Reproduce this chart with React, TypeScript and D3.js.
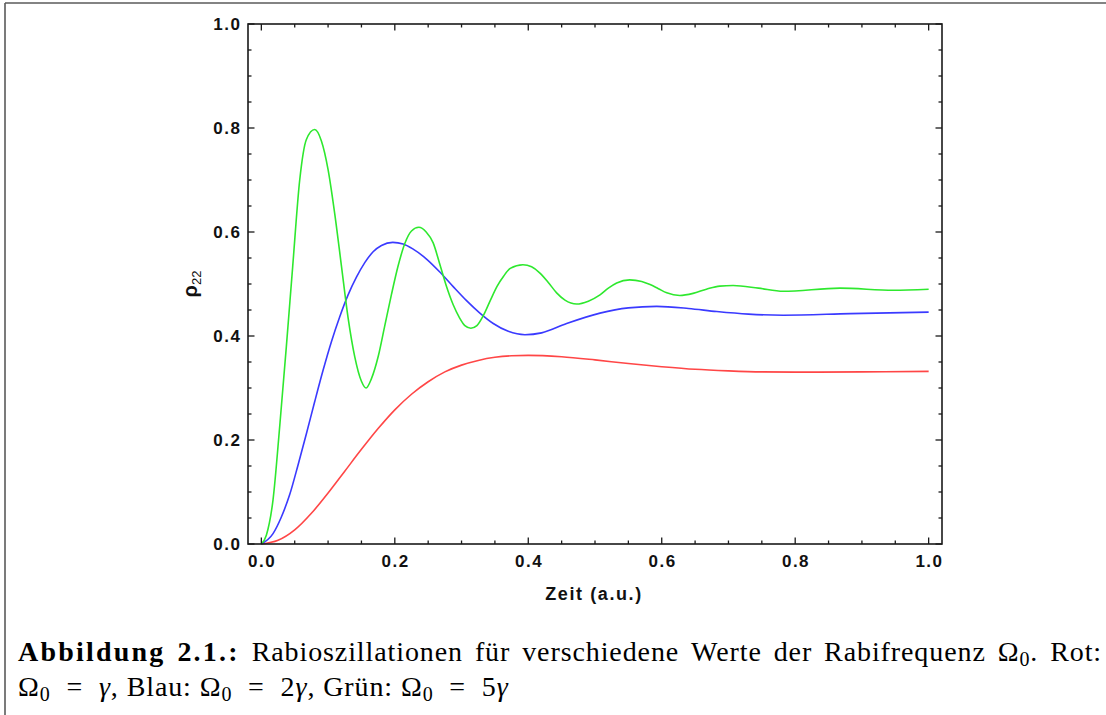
import React, { useMemo } from "react";
import * as d3 from "d3";

// ---- data ----
const timeRed = [0, 0.025, 0.05, 0.075, 0.1, 0.125, 0.15, 0.175, 0.2, 0.225, 0.25, 0.275, 0.3, 0.325, 0.35, 0.375, 0.4, 0.45, 0.5, 0.55, 0.6, 0.65, 0.7, 0.75, 0.8, 0.9, 1.0];
const rhoRed = [0, 0.007, 0.027, 0.059, 0.098, 0.14, 0.182, 0.222, 0.258, 0.288, 0.312, 0.331, 0.344, 0.353, 0.359, 0.362, 0.3628, 0.36, 0.354, 0.347, 0.341, 0.336, 0.333, 0.331, 0.3305, 0.331, 0.332];

const timeBlue = [0, 0.0175, 0.03, 0.0425, 0.055, 0.0675, 0.08, 0.0925, 0.105, 0.1175, 0.13, 0.1425, 0.155, 0.1675, 0.18, 0.197, 0.2125, 0.2275, 0.2475, 0.2675, 0.2875, 0.3075, 0.3275, 0.3475, 0.37, 0.395, 0.42, 0.4575, 0.5075, 0.55, 0.5925, 0.64, 0.6825, 0.73, 0.782, 0.8825, 1.0];
const rhoBlue = [0, 0.02, 0.052, 0.095, 0.152, 0.212, 0.274, 0.334, 0.389, 0.437, 0.479, 0.513, 0.541, 0.562, 0.574, 0.58, 0.577, 0.567, 0.548, 0.523, 0.495, 0.468, 0.444, 0.424, 0.409, 0.4025, 0.406, 0.424, 0.444, 0.454, 0.457, 0.453, 0.447, 0.442, 0.44, 0.443, 0.446];

const timeGreen = [0, 0.0075, 0.0175, 0.0275, 0.0375, 0.047, 0.0575, 0.0675, 0.08, 0.09, 0.1, 0.11, 0.12, 0.13, 0.14, 0.15, 0.157, 0.165, 0.175, 0.185, 0.195, 0.205, 0.215, 0.225, 0.236, 0.247, 0.2575, 0.267, 0.277, 0.2875, 0.297, 0.305, 0.314, 0.323, 0.333, 0.343, 0.353, 0.363, 0.373, 0.392, 0.405, 0.4175, 0.43, 0.4425, 0.455, 0.4725, 0.49, 0.5075, 0.52, 0.5325, 0.552, 0.57, 0.5825, 0.595, 0.6075, 0.627, 0.647, 0.667, 0.687, 0.707, 0.745, 0.782, 0.867, 0.947, 1.0];
const rhoGreen = [0, 0.017, 0.085, 0.226, 0.38, 0.534, 0.7, 0.778, 0.797, 0.775, 0.72, 0.635, 0.535, 0.435, 0.36, 0.313, 0.3, 0.318, 0.36, 0.42, 0.48, 0.535, 0.578, 0.602, 0.609, 0.6, 0.579, 0.54, 0.497, 0.46, 0.435, 0.42, 0.415, 0.42, 0.44, 0.468, 0.495, 0.515, 0.53, 0.537, 0.533, 0.521, 0.503, 0.483, 0.469, 0.4615, 0.467, 0.479, 0.492, 0.502, 0.508, 0.505, 0.499, 0.491, 0.483, 0.478, 0.482, 0.49, 0.496, 0.497, 0.492, 0.486, 0.492, 0.488, 0.49];

const majorTicks = [0, 0.2, 0.4, 0.6, 0.8, 1.0];
const tickLabels = ["0.0", "0.2", "0.4", "0.6", "0.8", "1.0"];
const minorStep = 0.05;

const xTitle = "Zeit (a.u.)";
const captionBold = ["Abbildung", "2.1.:"];
const captionWords = ["Rabioszillationen", "für", "verschiedene", "Werte", "der", "Rabifrequenz"];

const series = [
  { t: timeRed, v: rhoRed, color: "#ff4646" },
  { t: timeBlue, v: rhoBlue, color: "#3a3aff" },
  { t: timeGreen, v: rhoGreen, color: "#2ee82e" },
];

const W = 1106;
const H = 715;
const PL = 248, PR = 942, PT = 24, PB = 544;
const AX = "#1a1a1a";
const SANS = '"Liberation Sans", Arial, sans-serif';
const SERIF = '"Liberation Serif", "Times New Roman", serif';
const CAP = 28;
const SUB = 20;
const LS = 0.9;

type Piece = { t: string; b?: boolean; sub?: boolean; it?: boolean };

function fontOf(p: Piece) {
  return `${p.it ? "italic " : ""}${p.b ? "bold " : ""}${p.sub ? SUB : CAP}px ${SERIF}`;
}
function lsOf(p: Piece) {
  return p.b ? 2.2 : LS;
}

export default function App() {
  const x = d3.scaleLinear().domain([-0.02, 1.02]).range([PL, PR]);
  const y = d3.scaleLinear().domain([0, 1]).range([PB, PT]);
  const minor = d3.range(0, 1.0001, minorStep);

  const line = d3
    .line<[number, number]>()
    .x((d) => x(d[0]))
    .y((d) => y(d[1]))
    .curve(d3.curveMonotoneX);

  const caption = useMemo(() => {
    const ctx = document.createElement("canvas").getContext("2d")!;
    const measure = (p: Piece) => {
      ctx.font = fontOf(p);
      return ctx.measureText(p.t).width + lsOf(p) * p.t.length;
    };
    const words: Piece[][] = [
      ...captionBold.map((w) => [{ t: w, b: true }]),
      ...captionWords.map((w) => [{ t: w }]),
      [{ t: "Ω" }, { t: "0", sub: true }, { t: "." }],
      [{ t: "Rot:" }],
    ];
    const x0 = 18, x1 = 1102;
    const widths = words.map((w) => w.reduce((s, p) => s + measure(p), 0));
    const total = widths.reduce((a, b) => a + b, 0);
    const gap = (x1 - x0 - total) / (words.length - 1);
    const out: { p: Piece; x: number; line: number }[] = [];
    let cx = x0;
    words.forEach((w, i) => {
      let px = cx;
      w.forEach((p) => {
        out.push({ p, x: px, line: 0 });
        px += measure(p);
      });
      cx += widths[i] + gap;
    });
    const l2: Piece[] = [
      { t: "Ω" }, { t: "0", sub: true }, { t: "  =  " }, { t: "γ", it: true }, { t: ", Blau: " },
      { t: "Ω" }, { t: "0", sub: true }, { t: "  =  2" }, { t: "γ", it: true }, { t: ", Grün: " },
      { t: "Ω" }, { t: "0", sub: true }, { t: "  =  5" }, { t: "γ", it: true },
    ];
    let lx = x0;
    l2.forEach((p) => {
      out.push({ p, x: lx, line: 1 });
      lx += measure(p);
    });
    return out;
  }, []);

  const baselines = [661, 696];

  return (
    <svg width={W} height={H} style={{ position: "absolute", left: 0, top: 0, background: "#fff" }}>
      {/* outer frame */}
      <line x1={5} y1={3} x2={W} y2={3} stroke="#5a5a5a" strokeWidth={1.6} />
      <line x1={5} y1={3} x2={5} y2={H} stroke="#5a5a5a" strokeWidth={1.6} />

      {/* curves */}
      {series.map((s, i) => (
        <path
          key={i}
          d={line(s.t.map((t, k) => [t, s.v[k]] as [number, number])) || ""}
          fill="none"
          stroke={s.color}
          strokeWidth={1.6}
        />
      ))}

      {/* plot frame */}
      <rect x={PL} y={PT} width={PR - PL} height={PB - PT} fill="none" stroke={AX} strokeWidth={1.6} />

      {/* ticks */}
      {minor.map((m, i) => {
        const isMajor = Math.abs(m / 0.2 - Math.round(m / 0.2)) < 1e-6;
        const len = isMajor ? 6.5 : 3.5;
        return (
          <g key={i} stroke={AX} strokeWidth={1.3}>
            <line x1={x(m)} x2={x(m)} y1={PB} y2={PB - len} />
            <line x1={x(m)} x2={x(m)} y1={PT} y2={PT + len} />
            <line x1={PL} x2={PL + len} y1={y(m)} y2={y(m)} />
            <line x1={PR} x2={PR - len} y1={y(m)} y2={y(m)} />
          </g>
        );
      })}

      {/* tick labels */}
      {majorTicks.map((m, i) => (
        <text key={"x" + i} x={x(m) + 0.8} y={567} textAnchor="middle" fontFamily={SANS} fontWeight="bold" fontSize={17} letterSpacing={1.5} fill="#111">
          {tickLabels[i]}
        </text>
      ))}
      {majorTicks.map((m, i) => (
        <text key={"y" + i} x={241.5} y={y(m) + 6} textAnchor="end" fontFamily={SANS} fontWeight="bold" fontSize={17} letterSpacing={1.5} fill="#111">
          {tickLabels[i]}
        </text>
      ))}

      {/* axis titles */}
      <text x={594} y={600} textAnchor="middle" fontFamily={SANS} fontWeight="bold" fontSize={18} letterSpacing={1.6} fill="#111">
        {xTitle}
      </text>
      <text transform="translate(197,284) rotate(-90)" textAnchor="middle" fontFamily={SANS} fill="#111">
        <tspan fontWeight="bold" fontSize={20}>ρ</tspan>
        <tspan fontSize={13} dy={3.7}>22</tspan>
      </text>

      {/* caption */}
      {caption.map((c, i) => (
        <text
          key={"c" + i}
          x={c.x}
          y={baselines[c.line] + (c.p.sub ? 5 : 0)}
          fontFamily={SERIF}
          fontSize={c.p.sub ? SUB : CAP}
          fontWeight={c.p.b ? "bold" : "normal"}
          fontStyle={c.p.it ? "italic" : "normal"}
          letterSpacing={lsOf(c.p)}
          fill="#000"
          style={{ whiteSpace: "pre" }}
        >
          {c.p.t}
        </text>
      ))}
    </svg>
  );
}
